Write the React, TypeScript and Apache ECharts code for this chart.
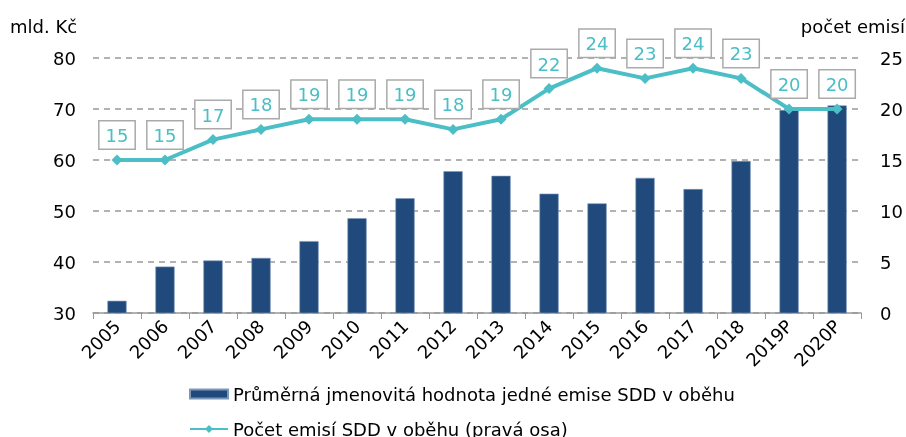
import React, { useEffect, useRef } from "react";
import * as echarts from "echarts";

const categories = ["2005","2006","2007","2008","2009","2010","2011","2012","2013","2014","2015","2016","2017","2018","2019P","2020P"];
const avgValue = [32.4, 39.1, 40.3, 40.8, 44.1, 48.6, 52.5, 57.8, 56.9, 53.4, 51.5, 56.5, 54.3, 59.8, 69.8, 70.7];
const issueCount = [15, 15, 17, 18, 19, 19, 19, 18, 19, 22, 24, 23, 24, 23, 20, 20];
const barName = "Průměrná jmenovitá hodnota jedné emise SDD v oběhu";
const lineName = "Počet emisí SDD v oběhu (pravá osa)";
const leftTitle = "mld. Kč";
const rightTitle = "počet emisí";

const FONT = "DejaVu Sans, Verdana, sans-serif";
const FS = 18;

export default function App() {
  const ref = useRef<HTMLDivElement>(null);
  useEffect(() => {
    const chart = echarts.init(ref.current!, undefined, { renderer: "svg" });
    const legendText = { fontFamily: FONT, fontSize: FS, color: "#000" };
    chart.setOption({
      animation: false,
      textStyle: { fontFamily: FONT },
      grid: { left: 93, right: 43, top: 58, bottom: 124 },
      graphic: [
        {
          type: "text",
          left: 10,
          top: 17,
          style: { text: leftTitle, fontFamily: FONT, fontSize: FS, fill: "#000" },
        },
        {
          type: "text",
          right: 1,
          top: 17,
          style: { text: rightTitle, fontFamily: FONT, fontSize: FS, fill: "#000" },
        },
      ],
      legend: [
        {
          left: 184,
          top: 380,
          itemWidth: 38,
          itemHeight: 9,
          textStyle: legendText,
          data: [{ name: barName, icon: "rect" }],
        },
        {
          left: 184,
          top: 415,
          itemWidth: 38,
          itemHeight: 10,
          textStyle: legendText,
          data: [{ name: lineName }],
        },
      ],
      xAxis: {
        type: "category",
        data: categories,
        axisLine: { lineStyle: { color: "#999", width: 1.5 } },
        axisTick: { show: true, length: 6, lineStyle: { color: "#999" } },
        axisLabel: { rotate: 45, fontFamily: FONT, fontSize: FS, color: "#000", margin: 10 },
      },
      yAxis: [
        {
          type: "value",
          min: 30,
          max: 80,
          interval: 10,
          axisLine: { show: false },
          axisTick: { show: false },
          axisLabel: { fontFamily: FONT, fontSize: FS, color: "#000", margin: 17 },
          splitLine: { lineStyle: { color: "#999", type: [6, 5], width: 1.5 } },
        },
        {
          type: "value",
          min: 0,
          max: 25,
          interval: 5,
          axisLine: { show: false },
          axisTick: { show: false },
          axisLabel: { fontFamily: FONT, fontSize: FS, color: "#000", margin: 19 },
          splitLine: { show: false },
        },
      ],
      series: [
        {
          name: barName,
          type: "bar",
          data: avgValue,
          barWidth: "40%",
          itemStyle: { color: "#214A7C", borderColor: "#7E97B8", borderWidth: 0.6 },
        },
        {
          name: lineName,
          type: "line",
          yAxisIndex: 1,
          data: issueCount,
          symbol: "diamond",
          symbolSize: 11,
          lineStyle: { color: "#4BBEC6", width: 4 },
          itemStyle: { color: "#4BBEC6" },
          label: {
            show: true,
            position: "top",
            distance: 6,
            fontFamily: FONT,
            fontSize: FS,
            lineHeight: 20,
            color: "#4BBEC6",
            backgroundColor: "#fff",
            borderColor: "#AAA",
            borderWidth: 1.5,
            padding: [4, 6, 3, 6],
          },
        },
      ],
    });
    return () => chart.dispose();
  }, []);
  return (
    <div
      ref={ref}
      style={{ position: "fixed", left: 0, top: 0, width: 906, height: 437 }}
    />
  );
}
